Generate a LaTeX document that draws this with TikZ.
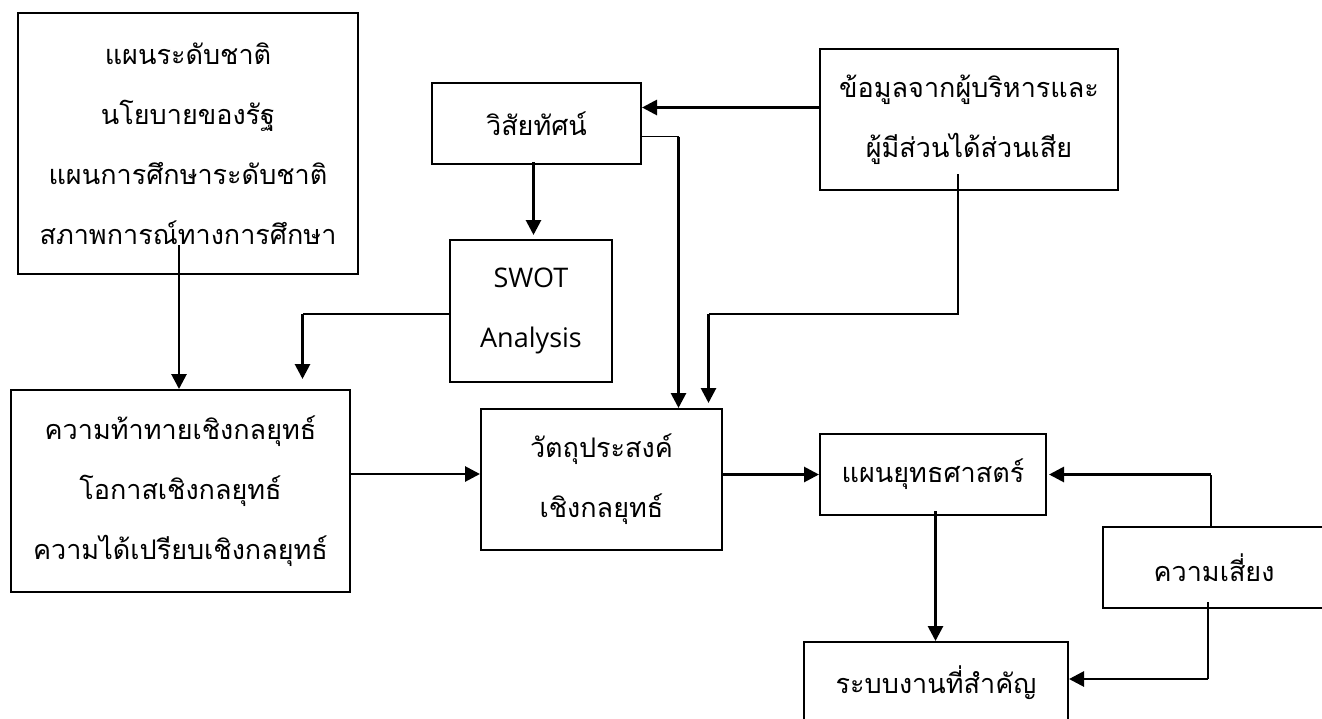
\documentclass[tikz,border=0pt]{standalone}
\usepackage{fontspec}
\usetikzlibrary{arrows.meta,calc}
\newfontfamily\thaifont[Script=Thai]{Loma}
\newfontfamily\swotfont{Open Sans}
\begin{document}
\begin{tikzpicture}[x=1pt,y=-1pt,
  box/.style={draw,line width=2pt,anchor=north west,inner sep=0pt,align=center,
    font=\thaifont\fontsize{27}{60}\selectfont},
  arr/.style={line width=2.8pt,-{Triangle[length=15pt,width=15pt]}},
  thinline/.style={line width=1.1pt}]
\useasboundingbox (0,0) rectangle (1322,718);

% boxes
\node[box,minimum width=340pt,minimum height=261pt] (A) at (17,12)
  {แผนระดับชาติ\\นโยบายของรัฐ\\แผนการศึกษาระดับชาติ\\สภาพการณ์ทางการศึกษา};
\node[box,minimum width=209pt,minimum height=81pt] (B) at (431,82) {วิสัยทัศน์};
\node[box,minimum width=162pt,minimum height=142pt,
  font=\swotfont\fontsize{27}{60}\selectfont] (C) at (449,239) {SWOT\\Analysis};
\node[box,minimum width=339pt,minimum height=202pt] (D) at (10,389)
  {ความท้าทายเชิงกลยุทธ์\\โอกาสเชิงกลยุทธ์\\ความได้เปรียบเชิงกลยุทธ์};
\node[box,minimum width=241pt,minimum height=141pt] (E) at (480,408)
  {วัตถุประสงค์\\เชิงกลยุทธ์};
\node[box,minimum width=298pt,minimum height=141pt] (F) at (819,48)
  {ข้อมูลจากผู้บริหารและ\\ผู้มีส่วนได้ส่วนเสีย};
\node[box,minimum width=226pt,minimum height=81pt] (G) at (819,433) {แผนยุทธศาสตร์};
\node[box,minimum width=222pt,minimum height=81pt] (H) at (1102,526) {ความเสี่ยง};
\node[box,minimum width=264pt,minimum height=82pt] (I) at (803,641) {ระบบงานที่สำคัญ};

% national plans -> strategic challenges
\draw[arr] ($(A.south)+(-9,-30)$) coordinate (a1) -- (a1 |- D.north);

% vision -> SWOT
\draw[arr,shorten >=4pt] ($(B.south)+(-3,-3)$) coordinate (b1) -- (b1 |- C.north);

% stakeholder input -> vision
\draw[arr] ($(F.west)+(0,-12)$) coordinate (f1) -- (f1 -| B.east);

% vision -> objectives
\coordinate (b2) at ($(B.east)+(0,13)$);
\coordinate (e1) at ($(E.north)+(77,0)$);
\draw[thinline] (b2) -- (b2 -| e1);
\draw[arr] (b2 -| e1) -- (e1);

% stakeholder input -> objectives
\coordinate (f2) at ($(F.south)+(-11,-17)$);
\coordinate (e2) at ($(E.north)+(107,0)$);
\draw[thinline] (f2) -- ($(f2)+(0,140)$) coordinate (f3) -- (f3 -| e2);
\draw[arr,shorten >=5pt] (f3 -| e2) -- (e2);

% SWOT -> strategic challenges
\coordinate (c1) at ($(C.west)+(0,3)$);
\coordinate (d1) at ($(D.north)+(122,0)$);
\draw[thinline] (c1) -- (c1 -| d1);
\draw[arr,shorten >=10pt] (c1 -| d1) -- (d1);

% strategic challenges -> objectives
\draw[arr] ($(D.east)+(0,-17)$) coordinate (d2) -- (d2 -| E.west);

% objectives -> strategic plan
\draw[arr] (G.west -| E.east) -- (G.west);

% risk -> strategic plan
\coordinate (h1) at ($(H.north)+(-3,0)$);
\draw[thinline] (h1) -- (h1 |- G.east);
\draw[arr,shorten >=2pt] (h1 |- G.east) -- (G.east);

% strategic plan -> key work systems
\draw[arr] ($(G.south)+(2.5,-5)$) coordinate (g1) -- (g1 |- I.north);

% risk -> key work systems
\coordinate (h2) at ($(H.south)+(-6,-7)$);
\coordinate (i1) at ($(I.east)+(0,-4)$);
\draw[thinline] (h2) -- (h2 |- i1);
\draw[arr] (h2 |- i1) -- (i1);
\end{tikzpicture}
\end{document}
